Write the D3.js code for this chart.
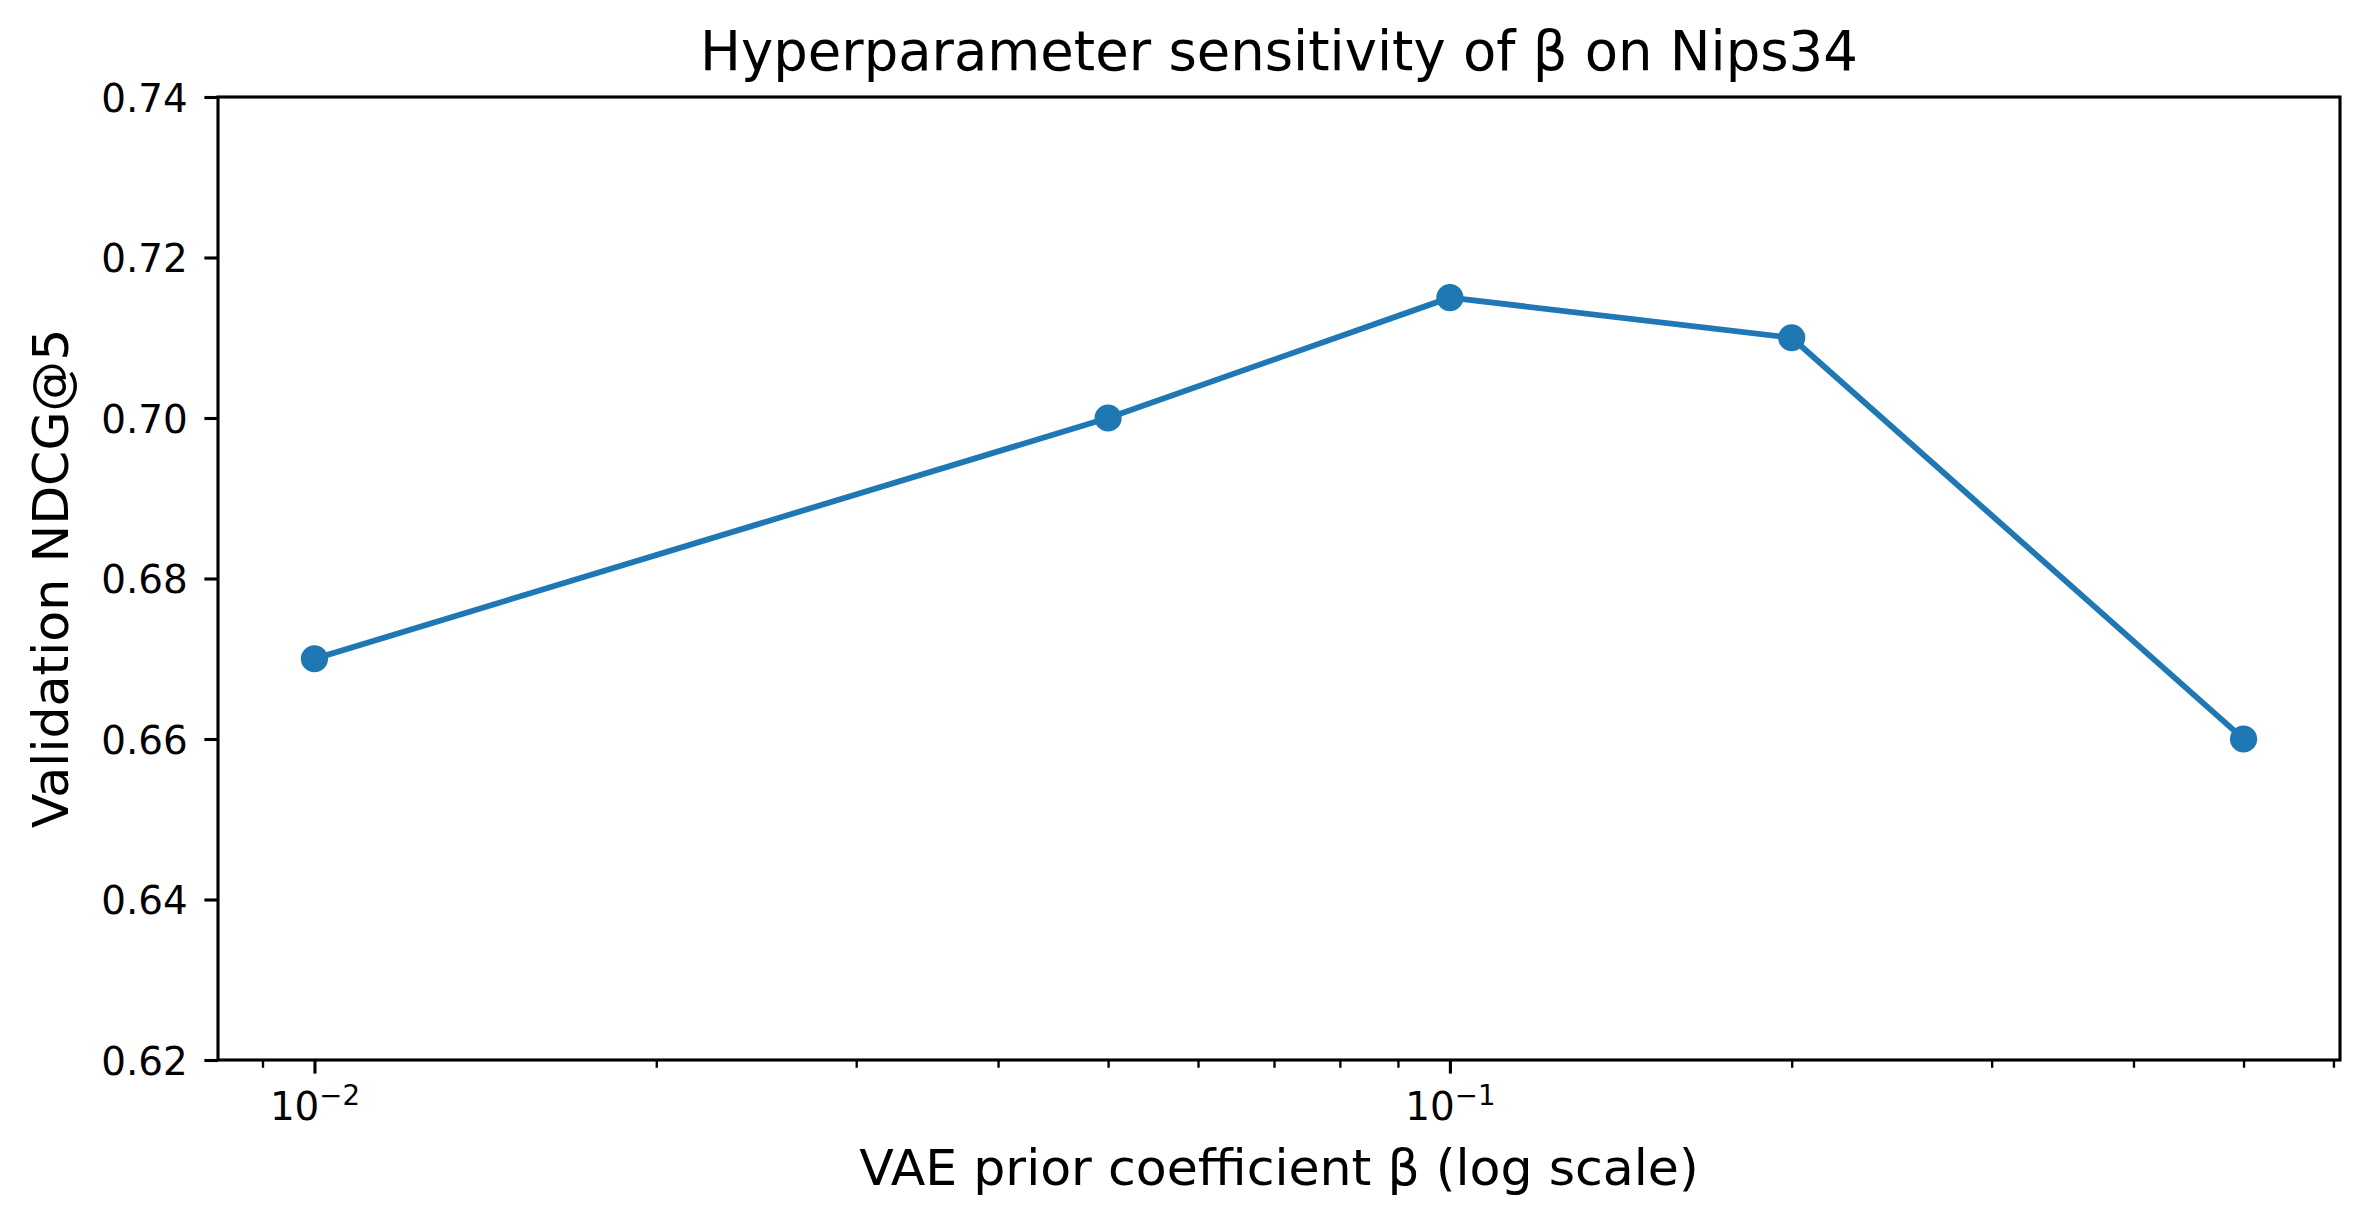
<!DOCTYPE html>
<html>
<head>
<meta charset="utf-8">
<script src="https://cdn.jsdelivr.net/npm/d3@7"></script>
<style>
  html, body { margin: 0; padding: 0; background: #fff; }
  svg { display: block; }
  text { font-family: "DejaVu Sans", sans-serif; fill: #000; }
</style>
</head>
<body>
<svg id="chart" width="2368" height="1225"></svg>
<script>
// data
var betaValues = [0.01, 0.05, 0.1, 0.2, 0.5];
var ndcgValues = [0.67, 0.70, 0.715, 0.71, 0.66];
var yTickValues = [0.62, 0.64, 0.66, 0.68, 0.70, 0.72, 0.74];
var xMajorTicks = [0.01, 0.1];
var xMajorLabels = ["\u22122", "\u22121"];
var xMinorTicks = [0.009, 0.02, 0.03, 0.04, 0.05, 0.06, 0.07, 0.08, 0.09,
                   0.2, 0.3, 0.4, 0.5, 0.6];

var titleText = "Hyperparameter sensitivity of \u03b2 on Nips34",
    xLabelText = "VAE prior coefficient \u03b2 (log scale)",
    yLabelText = "Validation NDCG@5";

var pt = 280 / 72,             // figure looks like ~280 dpi
    blue = "#1f77b4",
    margin = {left: 218, right: 28, top: 97, bottom: 165},
    W = 2368, H = 1225,
    pw = W - margin.left - margin.right,
    ph = H - margin.top - margin.bottom;

var svg = d3.select("#chart");

// matplotlib style 5% margins on the log range
var lmin = Math.log10(d3.min(betaValues)),
    lmax = Math.log10(d3.max(betaValues)),
    pad = (lmax - lmin) * 0.05;

var x = d3.scaleLog()
  .domain([Math.pow(10, lmin - pad), Math.pow(10, lmax + pad)])
  .range([0, pw]);
var y = d3.scaleLinear()
  .domain([0.62, 0.74])
  .range([ph, 0]);

var g = svg.append("g")
  .attr("transform", "translate(" + margin.left + "," + margin.top + ")");

// y axis
var yAxis = g.append("g")
  .attr("class", "y axis")
  .call(d3.axisLeft(y)
    .tickValues(yTickValues)
    .tickFormat(d3.format(".2f"))
    .tickSize(3.5 * pt)
    .tickPadding(3.5 * pt + 3));
yAxis.select(".domain").remove();
yAxis.selectAll(".tick line").attr("stroke", "#000").attr("stroke-width", 0.8 * pt);
yAxis.selectAll(".tick text")
  .attr("font-size", 10 * pt)
  .attr("font-family", "DejaVu Sans")
  .attr("dy", "0.36em");

// x axis, minor ticks
var xMinor = g.append("g")
  .attr("class", "x minor axis")
  .attr("transform", "translate(0," + ph + ")")
  .call(d3.axisBottom(x)
    .tickValues(xMinorTicks)
    .tickFormat("")
    .tickSize(2 * pt));
xMinor.select(".domain").remove();
xMinor.selectAll(".tick line").attr("stroke", "#000").attr("stroke-width", 0.6 * pt);

// x axis, major ticks with 10^n labels
var xMajor = g.append("g")
  .attr("class", "x axis")
  .attr("transform", "translate(0," + ph + ")")
  .call(d3.axisBottom(x)
    .tickValues(xMajorTicks)
    .tickSize(3.5 * pt));
xMajor.select(".domain").remove();
xMajor.selectAll(".tick line").attr("stroke", "#000").attr("stroke-width", 0.8 * pt);
xMajor.selectAll(".tick text")
  .attr("font-size", 10 * pt)
  .attr("font-family", "DejaVu Sans")
  .attr("y", 60)
  .attr("dy", 0)
  .text(null)
  .each(function(d, i) {
    var t = d3.select(this);
    t.append("tspan").text("10");
    t.append("tspan")
      .attr("font-size", 7.1 * pt)
      .attr("dy", -15)
      .text(xMajorLabels[i]);
  });

// the line and markers
var line = d3.line()
  .x(function(d) { return x(d[0]); })
  .y(function(d) { return y(d[1]); });
var pts = betaValues.map(function(b, i) { return [b, ndcgValues[i]]; });

g.append("path")
  .datum(pts)
  .attr("fill", "none")
  .attr("stroke", blue)
  .attr("stroke-width", 1.5 * pt)
  .attr("stroke-linejoin", "round")
  .attr("stroke-linecap", "square")
  .attr("d", line);

g.selectAll("circle.pt")
  .data(pts)
  .enter().append("circle")
  .attr("class", "pt")
  .attr("cx", function(d) { return x(d[0]); })
  .attr("cy", function(d) { return y(d[1]); })
  .attr("r", 3 * pt)
  .attr("fill", blue)
  .attr("stroke", blue)
  .attr("stroke-width", 1 * pt);

// frame
g.append("rect")
  .attr("x", 0).attr("y", 0)
  .attr("width", pw).attr("height", ph)
  .attr("fill", "none")
  .attr("stroke", "#000")
  .attr("stroke-width", 0.8 * pt)
  .attr("stroke-linejoin", "miter");

// title and axis labels
svg.append("text")
  .attr("x", margin.left + pw / 2)
  .attr("y", 70)
  .attr("text-anchor", "middle")
  .attr("font-size", 14 * pt)
  .text(titleText);

svg.append("text")
  .attr("x", margin.left + pw / 2)
  .attr("y", 1185)
  .attr("text-anchor", "middle")
  .attr("font-size", 13 * pt)
  .text(xLabelText);

svg.append("text")
  .attr("transform", "translate(68," + (margin.top + ph / 2) + ") rotate(-90)")
  .attr("text-anchor", "middle")
  .attr("font-size", 13 * pt)
  .text(yLabelText);
</script>
</body>
</html>
